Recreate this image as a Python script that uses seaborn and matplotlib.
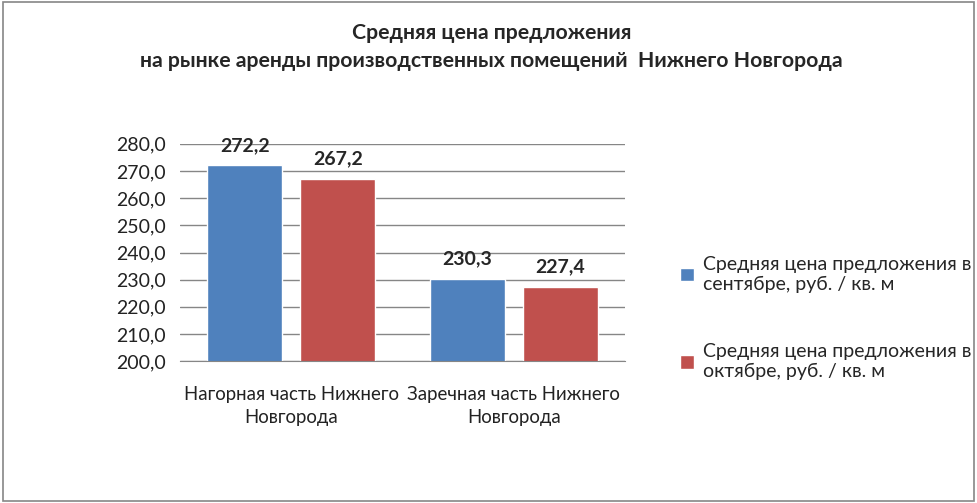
import pandas as pd
import matplotlib.pyplot as plt
import seaborn as sns
from matplotlib.patches import Rectangle

# Chart data
districts = ['Нагорная часть Нижнего\nНовгорода', 'Заречная часть Нижнего\nНовгорода']
series_names = ['Средняя цена предложения в\nсентябре, руб. / кв. м',
                'Средняя цена предложения в\nоктябре, руб. / кв. м']
sep_prices = [272.2, 230.3]
oct_prices = [267.2, 227.4]
y_ticks = [200, 210, 220, 230, 240, 250, 260, 270, 280]

df = pd.DataFrame({
    'district': districts * 2,
    'series': [series_names[0]] * 2 + [series_names[1]] * 2,
    'price': sep_prices + oct_prices,
})

sns.set_style('white')
plt.rcParams['font.family'] = ['Lato', 'DejaVu Sans']

fig = plt.figure(figsize=(9.77, 5.03), dpi=100)
ax = fig.add_axes([0.184, 0.282, 0.456, 0.432])

sns.barplot(data=df, x='district', y='price', hue='series', ax=ax,
            palette=['#4F81BD', '#C0504D'], width=0.836, gap=0.2,
            saturation=1, legend=True)

ax.set_ylim(200, 280)
ax.set_yticks(y_ticks)
ax.set_yticklabels([f'{t:.1f}'.replace('.', ',') for t in y_ticks], fontsize=14, color='#222222')
ax.tick_params(axis='x', labelsize=13.4, colors='#222222', length=0, pad=18)
ax.tick_params(axis='y', length=0, pad=10)
for lbl in ax.get_xticklabels():
    lbl.set_linespacing(1.4)
ax.yaxis.grid(True, color='#868686', linewidth=1)
ax.set_axisbelow(True)
ax.set_xlabel('')
ax.set_ylabel('')
for side in ['top', 'right', 'left']:
    ax.spines[side].set_visible(False)
ax.spines['bottom'].set_color('#868686')

# Value labels above bars
for container in ax.containers:
    ax.bar_label(container, labels=[f'{v:.1f}'.replace('.', ',') for v in container.datavalues],
                 fontsize=14, fontweight='bold', padding=8, clip_on=False)

# Legend on the right
handles, labels = ax.get_legend_handles_labels()
ax.legend_.remove()
fig.legend(handles, labels, loc='center left', bbox_to_anchor=(0.678, 0.368),
           frameon=False, fontsize=14, labelspacing=2.6, handlelength=0.7,
           handleheight=0.7, handletextpad=0.5)

fig.suptitle('Средняя цена предложения\nна рынке аренды производственных помещений  Нижнего Новгорода',
             x=0.503, y=0.955, fontsize=15.3, fontweight='bold', linespacing=1.55)

# Outer border
fig.patches.append(Rectangle((0.003, 0.004), 0.994, 0.992, transform=fig.transFigure,
                             fill=False, edgecolor='#868686', linewidth=1.2))

fig.savefig('out.png', dpi=100)
